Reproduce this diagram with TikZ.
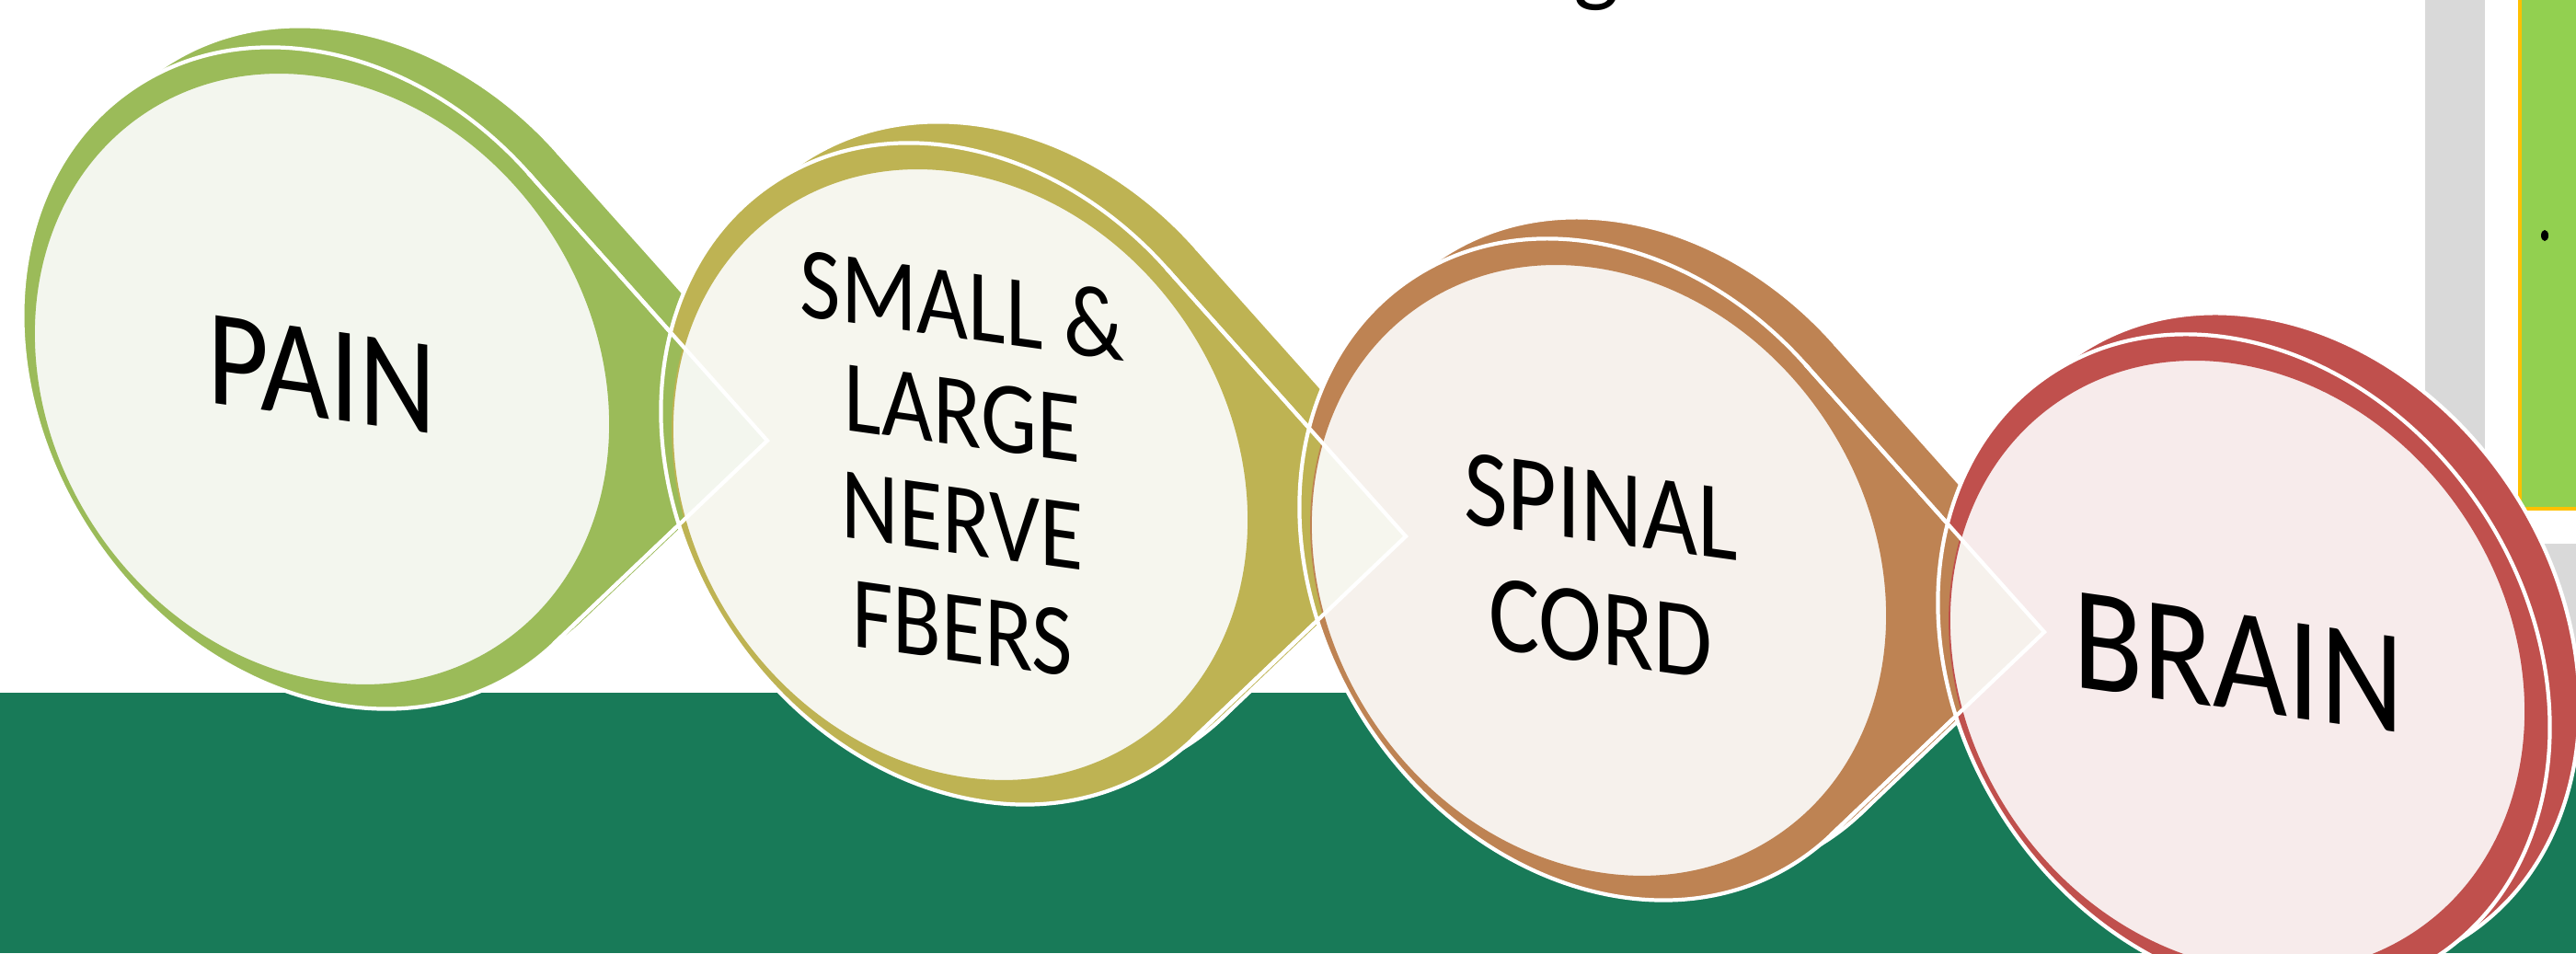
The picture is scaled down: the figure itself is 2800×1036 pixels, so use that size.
\documentclass[tikz,border=0pt]{standalone}
\usepackage{fontspec}
\setmainfont{Carlito}
\definecolor{cgreen}{HTML}{9BBB59}
\definecolor{colive}{HTML}{BEB353}
\definecolor{cbrown}{HTML}{BE8353}
\definecolor{cred}{HTML}{C0504D}
\definecolor{lgreen}{HTML}{F3F6EE}
\definecolor{lolive}{HTML}{F6F6EE}
\definecolor{lbrown}{HTML}{F6F1EC}
\definecolor{lred}{HTML}{F7EBEB}
\definecolor{band}{HTML}{187A58}
\definecolor{gbar}{HTML}{D9D9D9}
\definecolor{lime}{HTML}{92D050}
\definecolor{amber}{HTML}{FFC000}
\newcommand\wlw{1.2pt}
% tangent points of a teardrop: centre, angle, radii, tip, name
\newcommand\tdpts[8]{%
  \pgfmathsetmacro\tdu{(((#6)-(#1))*cos(#3)+((#7)-(#2))*sin(#3))/(#4)}%
  \pgfmathsetmacro\tdv{(-((#6)-(#1))*sin(#3)+((#7)-(#2))*cos(#3))/(#5)}%
  \pgfmathsetmacro\tdphi{atan2(\tdv,\tdu)}%
  \pgfmathsetmacro\tdbeta{acos(1/sqrt(\tdu*\tdu+\tdv*\tdv))}%
  \pgfmathsetmacro\tdsa{\tdphi+\tdbeta}%
  \pgfmathsetmacro\tdsb{\tdphi-\tdbeta}%
  \pgfmathsetmacro\tdxa{(#1)+(#4)*cos(\tdsa)*cos(#3)-(#5)*sin(\tdsa)*sin(#3)}%
  \pgfmathsetmacro\tdya{(#2)+(#4)*cos(\tdsa)*sin(#3)+(#5)*sin(\tdsa)*cos(#3)}%
  \pgfmathsetmacro\tdxb{(#1)+(#4)*cos(\tdsb)*cos(#3)-(#5)*sin(\tdsb)*sin(#3)}%
  \pgfmathsetmacro\tdyb{(#2)+(#4)*cos(\tdsb)*sin(#3)+(#5)*sin(\tdsb)*cos(#3)}%
  \coordinate (#8-g1) at (\tdxa,\tdya);%
  \coordinate (#8-g2) at (\tdxb,\tdyb);%
  \coordinate (#8-tip) at (#6,#7);%
}
\newcommand\mkshape[2]{%
  \pgfmathsetmacro\sdx{694*#1}%
  \pgfmathsetmacro\sdy{104*#1}%
  \coordinate (#2-ci) at (350+\sdx,-412-\sdy);%
  \coordinate (#2-co) at (357+\sdx,-411-\sdy);%
  \coordinate (#2-cb) at (389+\sdx,-388-\sdy);%
  \tdpts{357+\sdx}{-411-\sdy}{-56.2}{380}{309}{834+\sdx}{-479-\sdy}{#2-f}%
  \tdpts{389+\sdx}{-388-\sdy}{-56.2}{380}{309}{866+\sdx}{-456-\sdy}{#2-b}%
}
\newcommand\drawell[4]{\path[#1,rotate around={-56.2:(#2)}] (#2) ellipse [x radius=#3, y radius=#4];}
\newcommand\tdtri[2]{\path[#1] (#2-g1) -- (#2-tip) -- (#2-g2) -- cycle;}
\newcommand\tdlines[2]{\path[#1] (#2-g1) -- (#2-tip) -- (#2-g2);}
% full teardrop item: name, colour, light colour
\newcommand\teardropitem[3]{%
  \drawell{fill=#2, draw=white, line width=\wlw}{#1-cb}{380}{309}
  \tdtri{fill=#2}{#1-b}
  \tdlines{draw=white, line width=\wlw, line join=miter}{#1-b}
  \drawell{fill=#2, draw=white, line width=\wlw}{#1-co}{380}{309}
  \tdtri{fill=#2}{#1-f}
  \tdlines{draw=white, line width=\wlw, line join=miter}{#1-f}
  \drawell{fill=#3, draw=#2, line width=0.5pt}{#1-ci}{348}{296}
}
% tip of the previous item laid over the current one
\newcommand\tipover[5]{%
  \begin{scope}
    \clip (#1-f-g1) -- (#1-f-tip) -- (#1-f-g2) -- cycle;
    \drawell{clip}{#4-co}{383}{312}
    \fill[#2] (#1-f-g1) -- (#1-f-tip) -- (#1-f-g2) -- cycle;
    \drawell{fill=#3, draw=#5, line width=0.5pt}{#4-ci}{348}{296}
    \drawell{draw=white, line width=\wlw}{#4-co}{380}{309}
  \end{scope}
  \tdlines{draw=white, line width=\wlw, line join=miter}{#1-f}
}
\tikzset{lbl/.style={align=center, inner sep=0pt, yslant=-0.14, xscale=0.87, text=black}}
\begin{document}
\begin{tikzpicture}[x=0.01cm, y=0.01cm, line join=round]
\useasboundingbox (0,0) rectangle (2800,-1036);
\clip (0,0) rectangle (2800,-1036);
\fill[white] (0,0) rectangle (2800,-1036);
% background pieces
\fill[band] (0,-753) rectangle (2800,-1036);
\fill[gbar] (2636,10) rectangle (2701,-700);
\fill[gbar] (2740,-591) rectangle (2810,-753);
\path[fill=lime, draw=amber, line width=1.1pt] (2739,10) rectangle (2830,-553);
\fill[black] (2766,-256) ellipse [x radius=4, y radius=6];
\node[font=\fontsize{30}{36}\selectfont, anchor=base, inner sep=0pt] (ttl) at (1735,7) {g};
% geometry
\mkshape{0}{s1}
\mkshape{1}{s2}
\mkshape{2}{s3}
\mkshape{3}{s4}
% item 1
\teardropitem{s1}{cgreen}{lgreen}
% item 2
\teardropitem{s2}{colive}{lolive}
\tipover{s1}{cgreen}{lgreen}{s2}{colive}
% item 3
\teardropitem{s3}{cbrown}{lbrown}
\tipover{s2}{colive}{lolive}{s3}{cbrown}
% item 4 (no tip)
\drawell{fill=cred, draw=white, line width=\wlw}{s4-cb}{380}{309}
\drawell{fill=cred, draw=white, line width=\wlw}{s4-co}{380}{309}
\drawell{fill=lred, draw=cred, line width=0.5pt}{s4-ci}{348}{296}
\tipover{s3}{cbrown}{lbrown}{s4}{cred}
% labels
\node[lbl, font=\fontsize{42.4}{48}\selectfont] (pain) at (350,-407) {PAIN};
\node[lbl, font=\fontsize{31.6}{33.3}\selectfont] (fibers) at (1046,-506) {SMALL \&\\LARGE\\NERVE\\FBERS};
\node[lbl, font=\fontsize{33.9}{37.6}\selectfont] (cord) at (1740,-617) {SPINAL\\CORD};
\node[lbl, font=\fontsize{45.8}{52}\selectfont] (brain) at (2433,-720) {BRAIN};
\end{tikzpicture}
\end{document}
